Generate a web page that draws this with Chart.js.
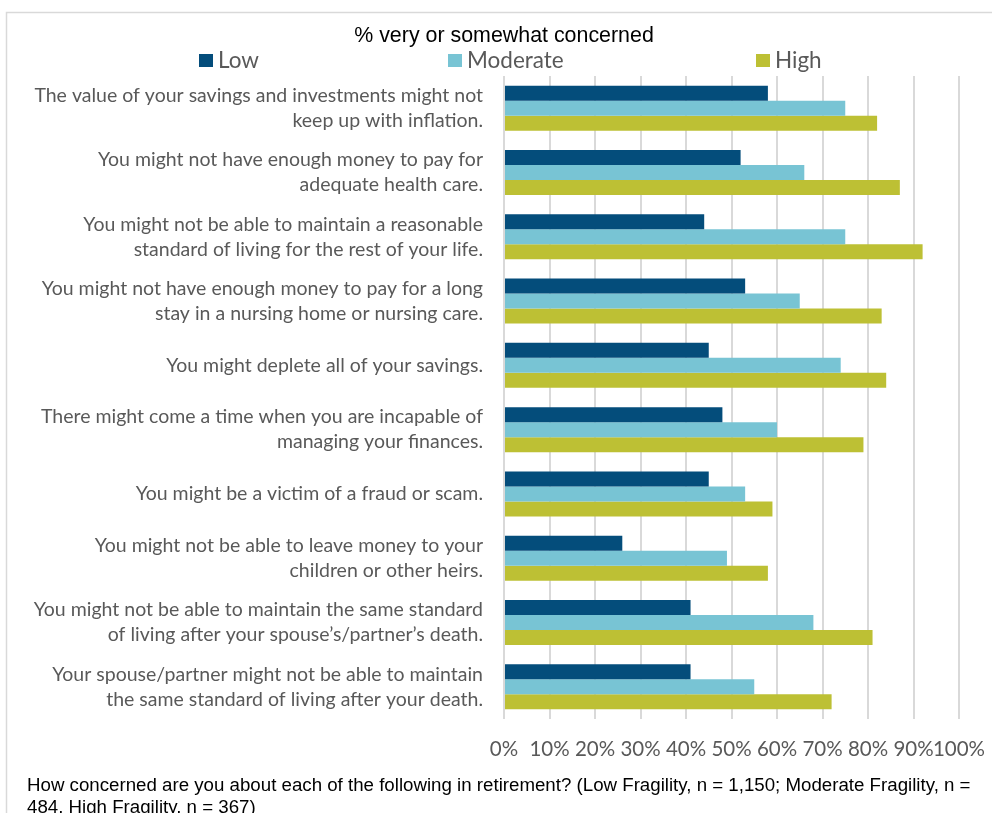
<!DOCTYPE html>
<html><head><meta charset="utf-8">
<script src="https://cdn.jsdelivr.net/npm/chart.js@4/dist/chart.umd.min.js"></script>
<style>html,body{margin:0;padding:0;background:#fff;overflow:hidden}</style>
</head><body>
<canvas id="c" width="992" height="813"></canvas>
<script>
const categories = [
  ["The value of your savings and investments might not", "keep up with inflation."],
  ["You might not have enough money to pay for", "adequate health care."],
  ["You might not be able to maintain a reasonable", "standard of living for the rest of your life."],
  ["You might not have enough money to pay for a long", "stay in a nursing home or nursing care."],
  "You might deplete all of your savings.",
  ["There might come a time when you are incapable of", "managing your finances."],
  "You might be a victim of a fraud or scam.",
  ["You might not be able to leave money to your", "children or other heirs."],
  ["You might not be able to maintain the same standard", "of living after your spouse\u2019s/partner\u2019s death."],
  ["Your spouse/partner might not be able to maintain", "the same standard of living after your death."]
];
const seriesNames = ["Low", "Moderate", "High"];
const lowValues = [58, 52, 44, 53, 45, 48, 45, 26, 41, 41];
const moderateValues = [75, 66, 75, 65, 74, 60, 53, 49, 68, 55];
const highValues = [82, 87, 92, 83, 84, 79, 59, 58, 81, 72];
const xTicks = [0, 10, 20, 30, 40, 50, 60, 70, 80, 90, 100];
const chartTitle = "% very or somewhat concerned";
const footnoteLines = [
  "How concerned are you about each of the following in retirement? (Low Fragility, n = 1,150; Moderate Fragility, n =",
  "484, High Fragility, n = 367)"
];

const colors = ["#044D7B", "#78C4D4", "#BDC034"];
const GRAY = "#595959";
const LABEL_FONT = "Lato, 'Open Sans', sans-serif";

const decorPlugin = {
  id: 'decor',
  beforeDraw(chart) {
    const ctx = chart.ctx;
    ctx.save();
    ctx.fillStyle = '#fff';
    ctx.fillRect(0, 0, chart.width, chart.height);
    ctx.restore();
  },
  afterDraw(chart) {
    const ctx = chart.ctx;
    ctx.save();
    // outer frame
    ctx.strokeStyle = '#d9d9d9';
    ctx.lineWidth = 1.5;
    ctx.strokeRect(6.5, 12.5, 1100, 900);
    // title
    ctx.fillStyle = '#000';
    ctx.font = "21.4px 'Liberation Sans', Arial, sans-serif";
    ctx.textAlign = 'center';
    ctx.textBaseline = 'alphabetic';
    ctx.fillText(chartTitle, 504, 42);
    // legend
    const legendX = [199, 448, 756];
    ctx.font = "22.5px " + LABEL_FONT;
    ctx.textAlign = 'left';
    chart.data.datasets.forEach((ds, i) => {
      ctx.fillStyle = ds.backgroundColor;
      ctx.fillRect(legendX[i], 54, 14, 13);
      ctx.fillStyle = GRAY;
      ctx.fillText(ds.label, legendX[i] + 19, 67.5);
    });
    // footnote
    ctx.fillStyle = '#000';
    ctx.font = "18.7px 'Liberation Sans', Arial, sans-serif";
    ctx.fillText(footnoteLines[0], 27, 791);
    ctx.fillText(footnoteLines[1], 27, 813);
    ctx.restore();
  }
};

new Chart(document.getElementById('c'), {
  type: 'bar',
  data: {
    labels: categories,
    datasets: [
      { label: seriesNames[0], data: lowValues, backgroundColor: colors[0] },
      { label: seriesNames[1], data: moderateValues, backgroundColor: colors[1] },
      { label: seriesNames[2], data: highValues, backgroundColor: colors[2] }
    ]
  },
  options: {
    indexAxis: 'y',
    responsive: false,
    animation: false,
    devicePixelRatio: 1,
    layout: { padding: { left: 0, top: 76, right: 33, bottom: 0 } },
    datasets: { bar: { categoryPercentage: 0.7, barPercentage: 1.0, borderWidth: 0 } },
    plugins: { legend: { display: false }, title: { display: false }, tooltip: { enabled: false } },
    scales: {
      x: {
        min: 0, max: 100,
        afterBuildTicks(scale) { scale.ticks = xTicks.map(v => ({ value: v })); },
        afterFit(scale) { scale.height = 94; scale.paddingLeft = 0; scale.paddingRight = 0; },
        grid: { color: '#d9d9d9', lineWidth: 2, drawTicks: false },
        border: { display: false },
        ticks: {
          callback: v => v + '%',
          color: GRAY,
          font: { family: LABEL_FONT, size: 20.5 },
          padding: 18,
          maxRotation: 0,
          autoSkip: false
        }
      },
      y: {
        afterFit(scale) { scale.width = 504; },
        grid: { display: false, drawTicks: false },
        border: { display: false },
        ticks: {
          color: GRAY,
          font: { family: LABEL_FONT, size: 19.5, lineHeight: 1.28 },
          padding: 21,
          crossAlign: 'near',
          autoSkip: false
        }
      }
    }
  },
  plugins: [decorPlugin]
});
</script>
</body></html>
